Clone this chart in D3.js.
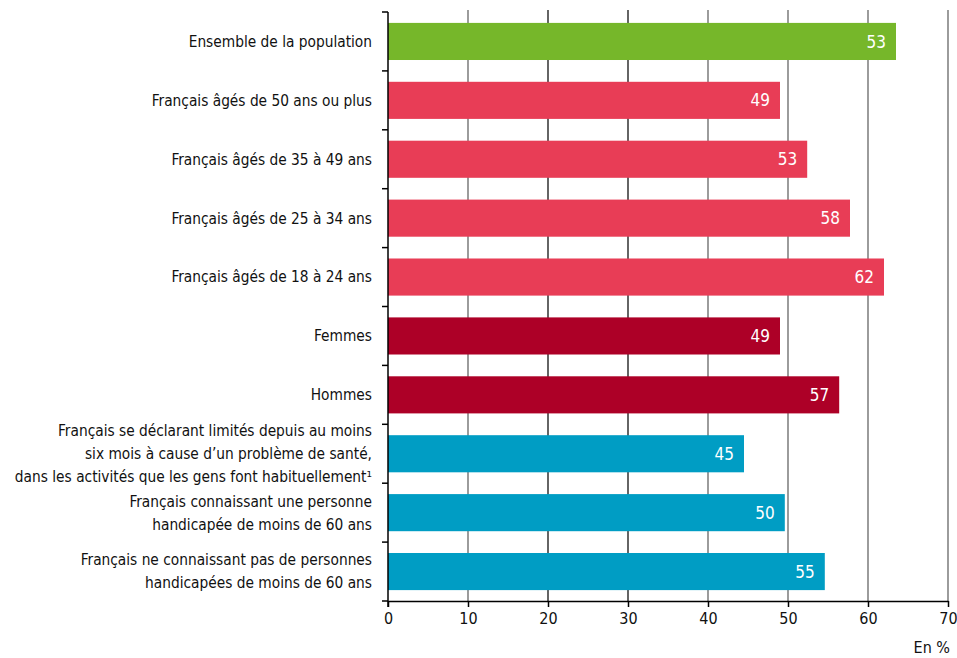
<!DOCTYPE html>
<html>
<head>
<meta charset="utf-8">
<script src="https://cdn.jsdelivr.net/npm/d3@7"></script>
<style>
  body { margin: 0; background: #fff; }
  svg { display: block; font-family: "DejaVu Sans Condensed", "DejaVu Sans", sans-serif; font-stretch: condensed; }
</style>
</head>
<body>
<div id="chart"></div>
<script>
// categories (one entry per line of the label)
var categories = [
  ["Ensemble de la population"],
  ["Français âgés de 50 ans ou plus"],
  ["Français âgés de 35 à 49 ans"],
  ["Français âgés de 25 à 34 ans"],
  ["Français âgés de 18 à 24 ans"],
  ["Femmes"],
  ["Hommes"],
  ["Français se déclarant limités depuis au moins", "six mois à cause d\u2019un problème de santé,", "dans les activités que les gens font habituellement\u00b9"],
  ["Français connaissant une personne", "handicapée de moins de 60 ans"],
  ["Français ne connaissant pas de personnes", "handicapées de moins de 60 ans"]
];
// group of each bar
var groups = ["ensemble", "age", "age", "age", "age", "sexe", "sexe", "handicap", "handicap", "handicap"];
// bar lengths as drawn
var barValues = [63.5, 49, 52.4, 57.75, 62, 49, 56.4, 44.5, 49.6, 54.6];
// values printed in the bars
var labelValues = [53, 49, 53, 58, 62, 49, 57, 45, 50, 55];
var xTicks = [0, 10, 20, 30, 40, 50, 60, 70];

var width = 957, height = 658;
var margin = {top: 12, right: 9, bottom: 57, left: 388};

var svg = d3.select("#chart").append("svg")
    .attr("width", width)
    .attr("height", height);

var x = d3.scaleLinear()
    .domain([0, 70])
    .range([margin.left, width - margin.right]);

var y = d3.scaleBand()
    .domain(d3.range(categories.length))
    .range([margin.top, height - margin.bottom])
    .paddingInner(0.37)
    .paddingOuter(0.185);

var color = d3.scaleOrdinal()
    .domain(["ensemble", "age", "sexe", "handicap"])
    .range(["#76b72a", "#e83d56", "#ad0027", "#009dc4"]);

// vertical grid lines
svg.append("g")
  .selectAll("line")
  .data(xTicks.slice(1))
  .enter().append("line")
    .attr("x1", function(d) { return x(d); })
    .attr("x2", function(d) { return x(d); })
    .attr("y1", margin.top - 2)
    .attr("y2", height - margin.bottom)
    .attr("stroke", function(d) { return (d == 20 || d == 30) ? "#111" : "#666"; })
    .attr("stroke-width", 1.3);

// bars
svg.append("g")
  .selectAll("rect")
  .data(barValues)
  .enter().append("rect")
    .attr("x", x(0))
    .attr("y", function(d, i) { return y(i); })
    .attr("width", function(d) { return x(d) - x(0); })
    .attr("height", y.bandwidth())
    .attr("fill", function(d, i) { return color(groups[i]); });

// values in bars
svg.append("g")
  .selectAll("text")
  .data(barValues)
  .enter().append("text")
    .attr("x", function(d) { return x(d) - 10; })
    .attr("y", function(d, i) { return y(i) + y.bandwidth() / 2; })
    .attr("dy", "0.36em")
    .attr("text-anchor", "end")
    .attr("fill", "#fff")
    .style("font-size", "17px")
    .text(function(d, i) { return labelValues[i]; });

// left axis (ticks at band limits)
var step = y.step();
var yAxis = svg.append("g");
yAxis.append("line")
    .attr("x1", x(0)).attr("x2", x(0))
    .attr("y1", margin.top).attr("y2", height - margin.bottom + 6)
    .attr("stroke", "#000").attr("stroke-width", 1.5);
yAxis.selectAll("line.tick")
  .data(d3.range(categories.length + 1))
  .enter().append("line")
    .attr("class", "tick")
    .attr("x1", x(0) - 6).attr("x2", x(0))
    .attr("y1", function(i) { return margin.top + i * step; })
    .attr("y2", function(i) { return margin.top + i * step; })
    .attr("stroke", "#000").attr("stroke-width", 1.5);

// category labels
var lineH = 23;
svg.append("g")
  .selectAll("text")
  .data(categories)
  .enter().append("text")
    .attr("text-anchor", "end")
    .attr("fill", "#111")
    .style("font-size", "15.3px")
    .each(function(lines, i) {
      var cy = y(i) + y.bandwidth() / 2;
      var t = d3.select(this);
      lines.forEach(function(l, k) {
        t.append("tspan")
          .attr("x", x(0) - 16)
          .attr("y", cy + (k - (lines.length - 1) / 2) * lineH)
          .attr("dy", "0.35em")
          .text(l);
      });
    });

// bottom axis
var xAxis = svg.append("g")
    .attr("transform", "translate(0," + (height - margin.bottom) + ")")
    .call(d3.axisBottom(x).tickValues(xTicks).tickSize(6).tickPadding(6).tickSizeOuter(0));
xAxis.select(".domain").attr("stroke", "#000").attr("stroke-width", 1.5);
xAxis.selectAll(".tick line").attr("stroke", "#000").attr("stroke-width", 1.5);
xAxis.selectAll(".tick text")
    .attr("fill", "#111")
    .style("font-size", "16px")
    .style("font-family", "\"DejaVu Sans Condensed\", \"DejaVu Sans\", sans-serif");

svg.append("text")
    .attr("x", width - 7)
    .attr("y", 653)
    .attr("text-anchor", "end")
    .attr("fill", "#111")
    .style("font-size", "16px")
    .text("En %");
</script>
</body>
</html>
